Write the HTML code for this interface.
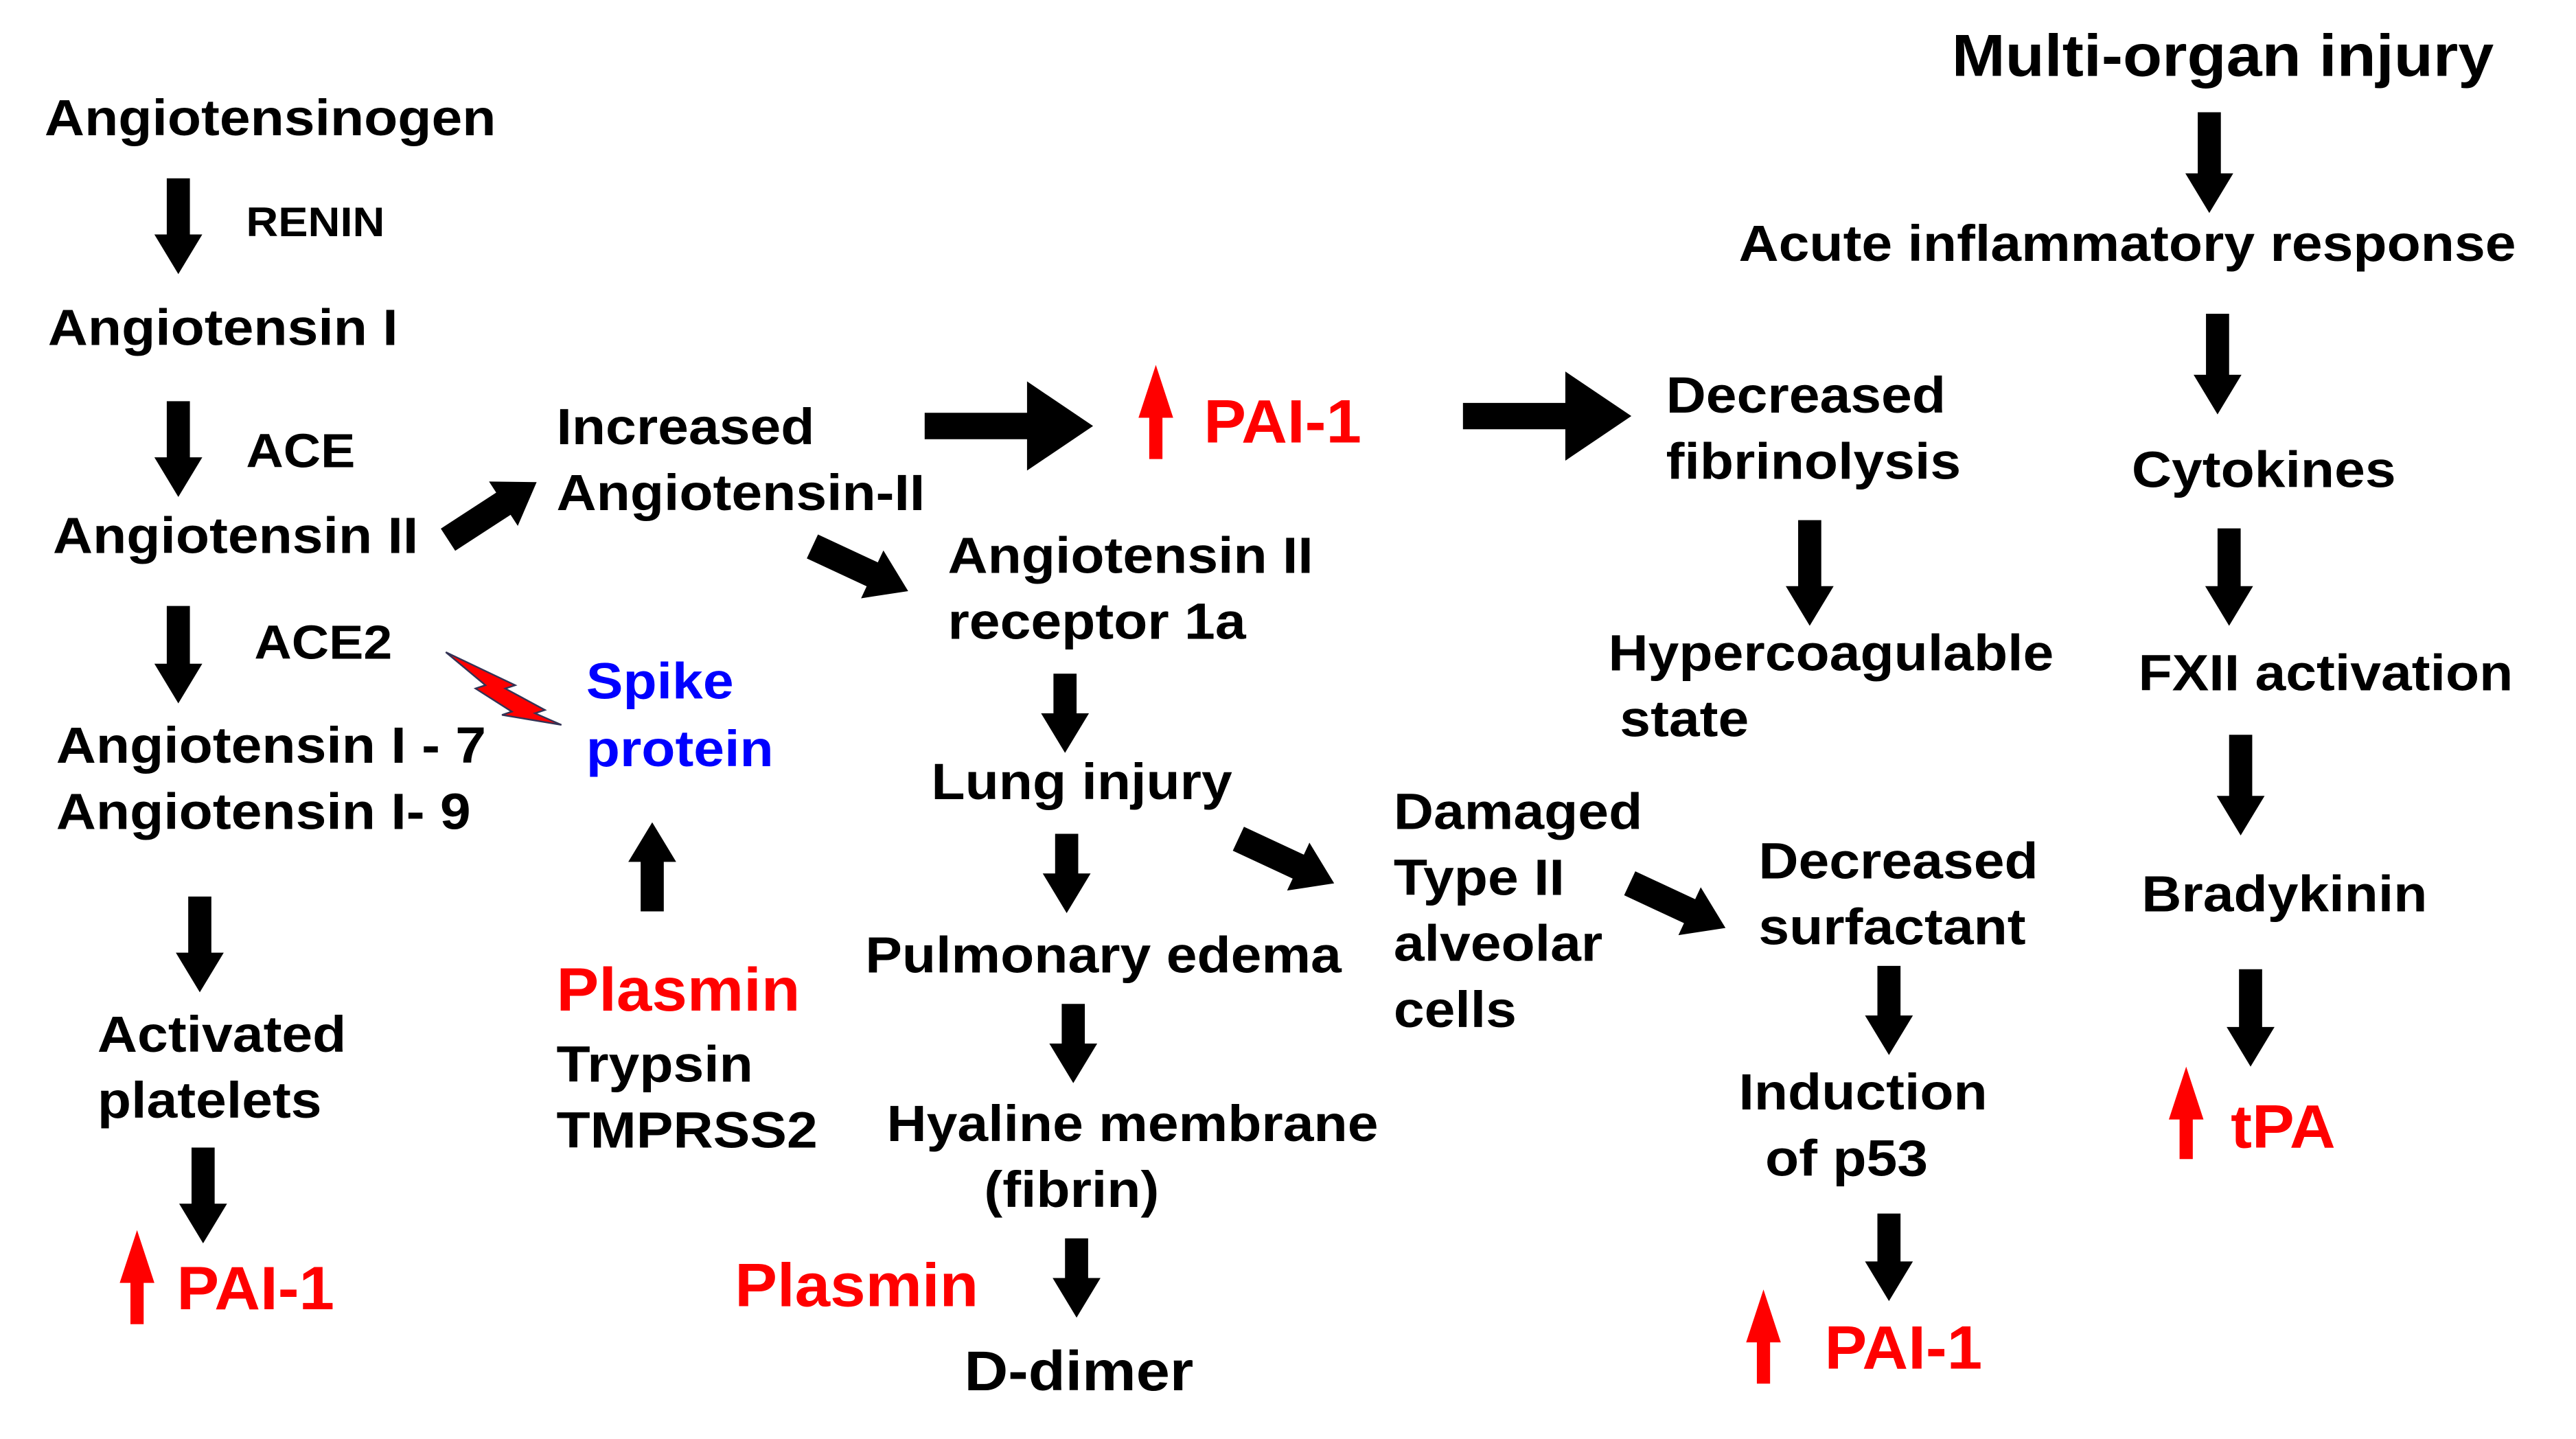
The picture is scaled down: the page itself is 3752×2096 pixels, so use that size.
<!DOCTYPE html>
<html><head><meta charset="utf-8"><style>
html,body{margin:0;padding:0;background:#fff;}
#wrap{width:3752px;height:2096px;overflow:hidden;position:relative;background:#fff;}
#c{position:absolute;left:0;top:0;width:1560px;height:871.5px;transform:scale(2.405);transform-origin:0 0;}
.t{position:absolute;font-family:"Liberation Sans",Arial,sans-serif;font-weight:bold;font-size:31px;line-height:31px;white-space:nowrap;color:#000;transform:translate(-1px,-1px) scaleX(1.08);transform-origin:0 0;}
.r{color:#f00;font-size:37px;line-height:39px;transform:translate(-1px,-1px) scaleX(1.04);}
.b{color:#00f;}
svg{position:absolute;left:0;top:0;}
</style></head><body><div id="wrap"><div id="c">
<svg width="1560" height="872" viewBox="0 0 1560 872">
<g fill="#000">
<path d="M101,108h14v34h7.5l-14.5,24l-14.5,-24h7.5z"/>
<path d="M101,243h14v34h7.5l-14.5,24l-14.5,-24h7.5z"/>
<path d="M101,367h14v35h7.5l-14.5,24l-14.5,-24h7.5z"/>
<path d="M114,543h14v34h7.5l-14.5,24l-14.5,-24h7.5z"/>
<path d="M116,695h14v34h7.5l-14.5,24l-14.5,-24h7.5z"/>
<path d="M638,408h14v24h7.5l-14.5,24l-14.5,-24h7.5z"/>
<path d="M639,505h14v24h7.5l-14.5,24l-14.5,-24h7.5z"/>
<path d="M643,608h14v24h7.5l-14.5,24l-14.5,-24h7.5z"/>
<path d="M645,750h14v24h7.5l-14.5,24l-14.5,-24h7.5z"/>
<path d="M1089,315h14v40h7.5l-14.5,24l-14.5,-24h7.5z"/>
<path d="M1137,585h14v30h7.5l-14.5,24l-14.5,-24h7.5z"/>
<path d="M1137,735h14v29h7.5l-14.5,24l-14.5,-24h7.5z"/>
<path d="M1331,68h14v37h7.5l-14.5,24l-14.5,-24h7.5z"/>
<path d="M1336,190h14v37h7.5l-14.5,24l-14.5,-24h7.5z"/>
<path d="M1343,320h14v35h7.5l-14.5,24l-14.5,-24h7.5z"/>
<path d="M1350,445h14v37h7.5l-14.5,24l-14.5,-24h7.5z"/>
<path d="M1356,587h14v35h7.5l-14.5,24l-14.5,-24h7.5z"/>
<path d="M388,552v-30h-7.5l14.5,-24l14.5,24h-7.5v30z"/>
<path d="M560,250h62v-19l40,27l-40,27v-19h-62z"/>
<path d="M886,244h62v-19l40,27l-40,27v-19h-62z"/>
<g transform="translate(325,292) rotate(-33)"><path d="M0,0l-24,-16v8h-40v16h40v8z"/></g>
<g transform="translate(550,358) rotate(25)"><path d="M0,0l-24,-16v8h-40v16h40v8z"/></g>
<g transform="translate(808,535) rotate(25)"><path d="M0,0l-24,-16v8h-40v16h40v8z"/></g>
<g transform="translate(1045,562) rotate(25)"><path d="M0,0l-24,-16v8h-40v16h40v8z"/></g>
</g>
<g fill="#f00">
<path d="M79,802v-25h-6.5l10.5,-32l10.5,32h-6.5v25z"/>
<path d="M696,278v-25h-6.5l10.5,-32l10.5,32h-6.5v25z"/>
<path d="M1064,838v-25h-6.5l10.5,-32l10.5,32h-6.5v25z"/>
<path d="M1320,702v-24h-6.5l10.5,-32l10.5,32h-6.5v24z"/>
<path d="M270,395l42,20l-6,2l24,13l-6,2l16,7l-36,-6l6,-2l-22,-14l6,-2z" stroke="#335" stroke-width="1"/>
</g>
</svg>
<div class="t" style="left:28px;top:57px">Angiotensinogen</div>
<div class="t" style="left:150px;top:124px;font-size:25px;line-height:25px">RENIN</div>
<div class="t" style="left:30px;top:184px">Angiotensin I</div>
<div class="t" style="left:150px;top:260px;font-size:29px">ACE</div>
<div class="t" style="left:33px;top:310px">Angiotensin II</div>
<div class="t" style="left:155px;top:376px;font-size:29px">ACE2</div>
<div class="t" style="left:35px;top:437px">Angiotensin I - 7</div>
<div class="t" style="left:35px;top:477px">Angiotensin I- 9</div>
<div class="t" style="left:60px;top:612px">Activated</div>
<div class="t" style="left:60px;top:652px">platelets</div>
<div class="t r" style="left:108px;top:762px">PAI-1</div>
<div class="t" style="left:338px;top:244px">Increased</div>
<div class="t" style="left:338px;top:284px">Angiotensin-II</div>
<div class="t b" style="left:356px;top:398px">Spike</div>
<div class="t b" style="left:356px;top:439px">protein</div>
<div class="t r" style="left:338px;top:581px">Plasmin</div>
<div class="t" style="left:338px;top:630px">Trypsin</div>
<div class="t" style="left:338px;top:670px">TMPRSS2</div>
<div class="t r" style="left:730px;top:237px">PAI-1</div>
<div class="t" style="left:1010px;top:225px">Decreased</div>
<div class="t" style="left:1010px;top:265px">fibrinolysis</div>
<div class="t" style="left:975px;top:381px">Hypercoagulable</div>
<div class="t" style="left:982px;top:421px">state</div>
<div class="t" style="left:575px;top:322px">Angiotensin II</div>
<div class="t" style="left:575px;top:362px">receptor 1a</div>
<div class="t" style="left:565px;top:459px">Lung injury</div>
<div class="t" style="left:525px;top:564px">Pulmonary edema</div>
<div class="t" style="left:538px;top:666px">Hyaline membrane</div>
<div class="t" style="left:597px;top:706px">(fibrin)</div>
<div class="t r" style="left:446px;top:760px">Plasmin</div>
<div class="t" style="left:585px;top:815px;font-size:34px;line-height:34px">D-dimer</div>
<div class="t" style="left:845px;top:477px">Damaged</div>
<div class="t" style="left:845px;top:517px">Type II</div>
<div class="t" style="left:845px;top:557px">alveolar</div>
<div class="t" style="left:845px;top:597px">cells</div>
<div class="t" style="left:1066px;top:507px">Decreased</div>
<div class="t" style="left:1066px;top:547px">surfactant</div>
<div class="t" style="left:1054px;top:647px">Induction</div>
<div class="t" style="left:1070px;top:687px">of p53</div>
<div class="t r" style="left:1106px;top:798px">PAI-1</div>
<div class="t" style="left:1183px;top:17px;font-size:36px;line-height:36px">Multi-organ injury</div>
<div class="t" style="left:1054px;top:133px">Acute inflammatory response</div>
<div class="t" style="left:1292px;top:270px">Cytokines</div>
<div class="t" style="left:1296px;top:393px">FXII activation</div>
<div class="t" style="left:1298px;top:527px">Bradykinin</div>
<div class="t r" style="left:1352px;top:664px">tPA</div>
</div></div></body></html>
